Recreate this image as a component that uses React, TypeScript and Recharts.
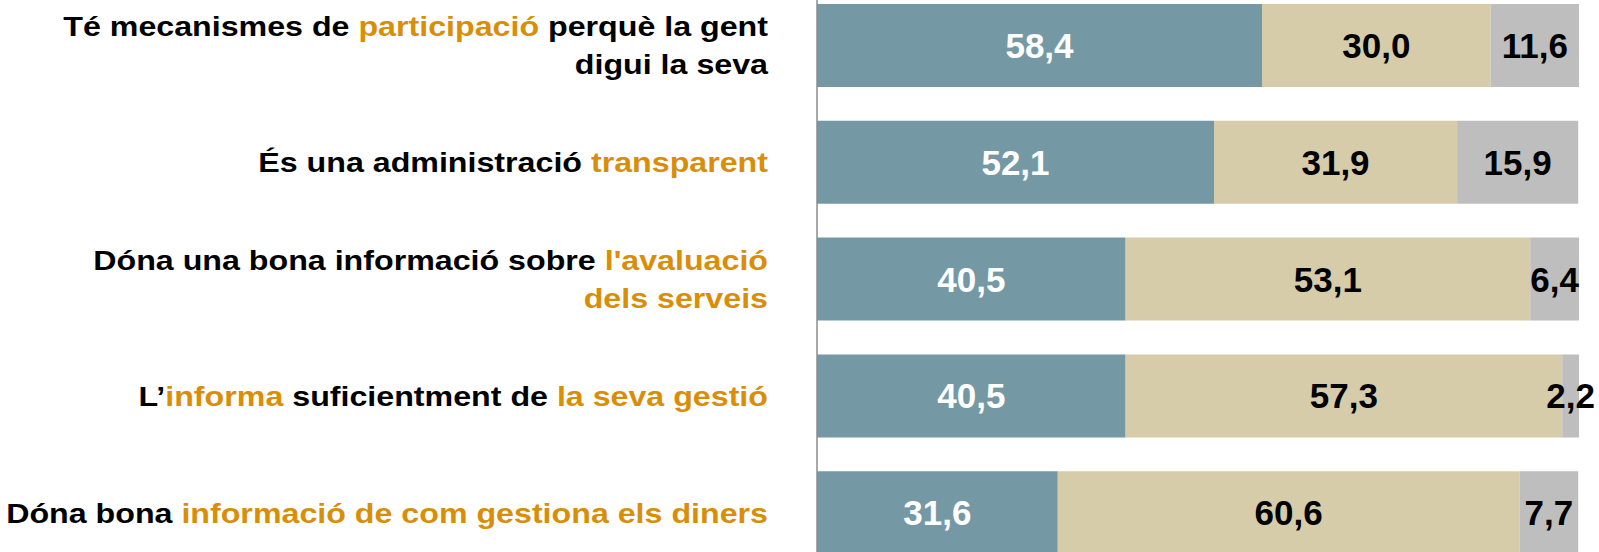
import React from "react";
import { BarChart, Bar, XAxis, YAxis, LabelList } from "recharts";

const categories = [
  "Té mecanismes de participació perquè la gent digui la seva",
  "És una administració transparent",
  "Dóna una bona informació sobre l'avaluació dels serveis",
  "L’informa suficientment de la seva gestió",
  "Dóna bona informació de com gestiona els diners",
];

// label lines: segments [text, highlighted]
const labelLines: [string, boolean][][][] = [
  [
    [["Té mecanismes de ", false], ["participació", true], [" perquè la gent", false]],
    [["digui la seva", false]],
  ],
  [[["És una administració ", false], ["transparent", true]]],
  [
    [["Dóna una bona informació sobre ", false], ["l'avaluació", true]],
    [["dels serveis", true]],
  ],
  [[["L’", false], ["informa", true], [" suficientment de ", false], ["la seva gestió", true]]],
  [[["Dóna bona ", false], ["informació de com gestiona els diners", true]]],
];

const seriesA = [58.4, 52.1, 40.5, 40.5, 31.6];
const seriesB = [30.0, 31.9, 53.1, 57.3, 60.6];
const seriesC = [11.6, 15.9, 6.4, 2.2, 7.7];

const data = categories.map((c, i) => ({ name: c, a: seriesA[i], b: seriesB[i], c: seriesC[i] }));

const FONT = '"Liberation Sans", Arial, sans-serif';
const ORANGE = "#D98E0A";

const fmt = (v: any) => Number(v).toFixed(1).replace(".", ",");

const Tick = (props: any) => {
  const { x, y, payload } = props;
  const idx = payload.index ?? categories.indexOf(payload.value);
  const lines = labelLines[idx] || [[[String(payload.value), false]]];
  const lh = 38;
  const ax = x - 41;
  const startY = y - ((lines.length - 1) * lh) / 2 + 10;
  return (
    <text
      x={ax}
      y={startY}
      textAnchor="end"
      fontFamily={FONT}
      fontWeight="bold"
      fontSize={28}
      transform={`translate(${ax},0) scale(1.15,1) translate(${-ax},0)`}
    >
      {lines.map((line, li) => (
        <tspan key={li} x={ax} y={startY + li * lh}>
          {line.map((seg, si) => (
            <tspan key={si} fill={seg[1] ? ORANGE : "#000"}>
              {seg[0]}
            </tspan>
          ))}
        </tspan>
      ))}
    </text>
  );
};

export default function App() {
  return (
    <div
      style={{
        position: "absolute",
        left: 0,
        top: 0,
        width: 1599,
        height: 552,
        overflow: "hidden",
        background: "#fff",
      }}
    >
      <div style={{ position: "absolute", left: 0, top: -13.4 }}>
        <BarChart
          width={1599}
          height={584}
          data={data}
          layout="vertical"
          margin={{ top: 0, right: 20, bottom: 0, left: 0 }}
          barSize={83}
        >
          <XAxis type="number" domain={[0, 100]} hide />
          <YAxis
            type="category"
            dataKey="name"
            width={817}
            axisLine={{ stroke: "#8C8C8C", strokeWidth: 1.5 }}
            tickLine={false}
            tick={<Tick />}
            interval={0}
          />
          <Bar dataKey="a" stackId="s" fill="#7599A4" isAnimationActive={false}>
            <LabelList
              dataKey="a"
              position="center"
              formatter={fmt}
              fill="#FFFFFF"
              fontSize={35}
              fontWeight="bold"
              fontFamily={FONT}
            />
          </Bar>
          <Bar dataKey="b" stackId="s" fill="#D6CCA9" isAnimationActive={false}>
            <LabelList
              dataKey="b"
              position="center"
              formatter={fmt}
              fill="#000000"
              fontSize={35}
              fontWeight="bold"
              fontFamily={FONT}
            />
          </Bar>
          <Bar dataKey="c" stackId="s" fill="#BEBEBE" isAnimationActive={false}>
            <LabelList
              dataKey="c"
              position="center"
              formatter={fmt}
              fill="#000000"
              fontSize={35}
              fontWeight="bold"
              fontFamily={FONT}
            />
          </Bar>
        </BarChart>
      </div>
    </div>
  );
}
